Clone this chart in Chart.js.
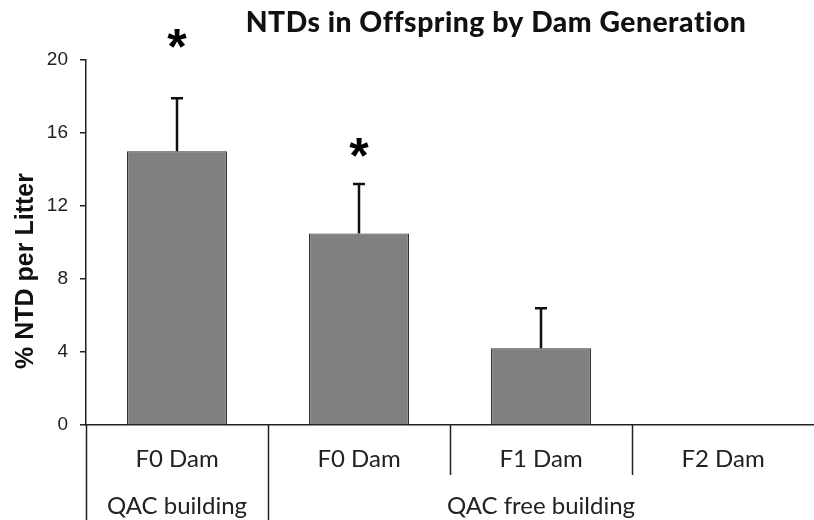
<!DOCTYPE html>
<html>
<head>
<meta charset="utf-8">
<script src="https://cdn.jsdelivr.net/npm/chart.js@4"></script>
<style>
  html, body { margin: 0; padding: 0; background: #fff; overflow: hidden; }
  #wrap { width: 814px; height: 520px; }
</style>
</head>
<body>
<div id="wrap"><canvas id="grafico"></canvas></div>
<script>
// datos
const titulo = 'NTDs in Offspring by Dam Generation';
const tituloY = '% NTD per Litter';
const categorias = ['F0 Dam', 'F0 Dam', 'F1 Dam', 'F2 Dam'];
const grupos = [
    { nombre: 'QAC building', desde: 0, hasta: 0 },
    { nombre: 'QAC free building', desde: 1, hasta: 3 }
];
const valores = [15, 10.5, 4.2, 0];
const errores = [2.9, 2.7, 2.2, 0];
const asteriscos = [21.1, 15.1, null, null]; // posicion en unidades del eje y
const ticksY = [0, 4, 8, 12, 16, 20];

// titulos, error bars, asteriscos y etiquetas de dos niveles
const extras = {
    id: 'extras',
    afterDatasetsDraw(chart) {
        const ctx = chart.ctx;
        const x = chart.scales.x;
        const y = chart.scales.y;
        const area = chart.chartArea;

        ctx.save();
        ctx.textAlign = 'center';
        ctx.textBaseline = 'middle';

        // titulo principal, ajustado al ancho de la figura
        // (el letterSpacing evita la ligadura "ti")
        ctx.letterSpacing = '0.5px';
        let size = 30;
        ctx.font = `900 ${size}px Lato, "DejaVu Sans", sans-serif`;
        size = Math.min(32, size * 500 / ctx.measureText(titulo).width);
        ctx.font = `900 ${size}px Lato, "DejaVu Sans", sans-serif`;
        ctx.fillStyle = '#111';
        ctx.fillText(titulo, 496, 23);
        ctx.letterSpacing = '0px';

        // titulo del eje y
        ctx.save();
        ctx.translate(26, 271);
        ctx.rotate(-Math.PI / 2);
        ctx.font = 'bold 25px "Liberation Sans", Arial, sans-serif';
        ctx.fillText(tituloY, 0, 0);
        ctx.restore();

        ctx.strokeStyle = '#111';
        ctx.lineWidth = 2.5;
        valores.forEach((v, i) => {
            if (!errores[i]) return;
            const px = x.getPixelForValue(i);
            const top = y.getPixelForValue(v + errores[i]);
            ctx.beginPath();
            ctx.moveTo(px, y.getPixelForValue(v));
            ctx.lineTo(px, top);
            ctx.moveTo(px - 6, top);
            ctx.lineTo(px + 6, top);
            ctx.stroke();
        });

        ctx.fillStyle = '#000';
        ctx.font = 'bold 50px "Liberation Sans", Arial, sans-serif';
        asteriscos.forEach((a, i) => {
            if (a == null) return;
            ctx.fillText('*', x.getPixelForValue(i), y.getPixelForValue(a) + 10);
        });

        // divisiones entre categorias
        const borde = i => i === 0 ? area.left : (x.getPixelForValue(i - 1) + x.getPixelForValue(i)) / 2;
        const inicioGrupo = grupos.map(g => g.desde);
        ctx.strokeStyle = '#222';
        ctx.lineWidth = 1.5;
        for (let i = 0; i < categorias.length; i++) {
            const bx = Math.round(borde(i)) + 0.5;
            ctx.beginPath();
            ctx.moveTo(bx, area.bottom);
            ctx.lineTo(bx, inicioGrupo.includes(i) ? chart.height : area.bottom + 50);
            ctx.stroke();
        }

        ctx.fillStyle = '#222';
        ctx.font = '24px Lato, "Noto Sans", sans-serif';
        categorias.forEach((c, i) => {
            ctx.fillText(c, x.getPixelForValue(i), area.bottom + 34);
        });
        grupos.forEach(g => {
            const cx = (x.getPixelForValue(g.desde) + x.getPixelForValue(g.hasta)) / 2;
            ctx.fillText(g.nombre, cx, area.bottom + 81);
        });
        ctx.restore();
    }
};

const ctx = document.getElementById('grafico').getContext('2d');
new Chart(ctx, {
    type: 'bar',
    data: {
        labels: categorias,
        datasets: [{
            data: valores,
            backgroundColor: '#808080',
            borderColor: '#333',
            borderWidth: 1.2,
            categoryPercentage: 0.55,
            barPercentage: 1
        }]
    },
    options: {
        responsive: true,
        maintainAspectRatio: false,
        animation: false,
        layout: { padding: { top: 60, right: 0, left: 0, bottom: 0 } },
        plugins: {
            legend: { display: false },
            tooltip: { enabled: false },
            title: { display: false }
        },
        scales: {
            x: {
                ticks: { display: false },
                grid: { display: false },
                border: { display: true, color: '#222', width: 1.5 },
                afterFit(s) { s.height = 95; }
            },
            y: {
                min: 0,
                max: 20,
                afterBuildTicks(s) { s.ticks = ticksY.map(v => ({ value: v })); },
                ticks: {
                    color: '#222',
                    padding: 12,
                    font: { family: '"Liberation Sans", Arial, sans-serif', size: 19 }
                },
                grid: { drawOnChartArea: false, drawTicks: true, tickLength: 6, color: '#222', lineWidth: 1.5 },
                border: { display: true, color: '#222', width: 1.5 },
                afterFit(s) { s.width = 86; }
            }
        }
    },
    plugins: [extras]
});
</script>
</body>
</html>
